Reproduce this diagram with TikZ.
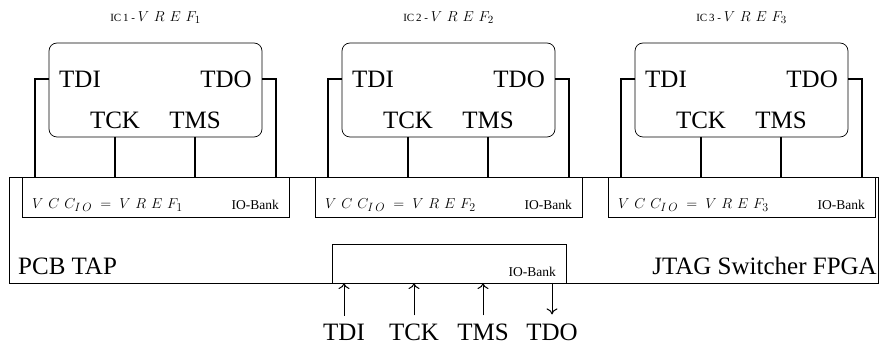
\documentclass[tikz,border=0pt]{standalone}
\usepackage{fontspec}
\setmainfont{Liberation Serif}
\usetikzlibrary{arrows.meta,positioning}
% math in the labels is set wide, with large indices
\DeclareMathSizes{15}{15}{12.5}{9}
\DeclareMathSizes{13.5}{13.5}{11}{8}
\newcommand{\vccio}{V\mkern6mu C\mkern6mu C_{I\mkern3mu O}}
\newcommand{\vrefn}[1]{V\mkern6mu R\mkern6mu E\mkern6mu F_{#1}}

\begin{document}
\begin{tikzpicture}[x=1pt,y=-1pt]
  \tikzstyle{box}=[draw,line width=0.7pt,inner sep=0pt,outer sep=0pt]
  \tikzstyle{icbox}=[box,rounded corners=8pt,minimum width=213pt,minimum height=94pt]
  \tikzstyle{bank}=[box,minimum width=267pt,minimum height=40pt]
  \tikzstyle{pin}=[inner sep=0pt,font=\fontsize{25}{30}\selectfont]
  \tikzstyle{small}=[inner sep=0pt,font=\fontsize{13.5}{16}\selectfont]
  \tikzstyle{tiny}=[inner sep=0pt,font=\fontsize{11}{13}\selectfont]
  \tikzstyle{wire}=[line width=1.5pt]
  \tikzstyle{sig}=[line width=1pt,-{To[length=6pt,width=11pt]}]
  \useasboundingbox (0,0) rectangle (879,352);
  % board with the switcher FPGA
  \node[box,minimum width=869pt,minimum height=106pt] (board) at (443.5,230) {};
  \node[pin,anchor=west] (pcb) at (18,266) {PCB TAP};
  \node[pin,anchor=east] (fpga) at (877,266) {JTAG Switcher FPGA};
  % one IC per IO bank
  \foreach \i/\dx in {1/0,2/293,3/586} {
    \node[icbox] (ic\i) at (155.5+\dx,90) {};
    \node[tiny] (name\i) at (155.5+\dx,18) {IC\,\i\ - {\fontsize{13.5}{15}\selectfont$\vrefn{\i}$}};
    \node[pin,anchor=west] (tdi\i) at (59+\dx,79) {TDI};
    \node[pin,anchor=east] (tdo\i) at (252+\dx,79) {TDO};
    \node[pin] (tck\i) at (115+\dx,120) {TCK};
    \node[pin] (tms\i) at (195+\dx,120) {TMS};
    \node[bank] (io\i) at (155.5+\dx,197) {};
    \node[small,anchor=west] (vcc\i) at (32+\dx,205) {\fontsize{15}{17}\selectfont$\vccio \;=\; \vrefn{\i}$};
    \node[small,anchor=east] (iol\i) at (279+\dx,205) {IO-Bank};
    \coordinate (di\i) at (35+\dx,177);
    \coordinate (do\i) at (276+\dx,177);
    \draw[wire] (ic\i.west |- tdi\i) -| (di\i);
    \draw[wire] (ic\i.east |- tdo\i) -| (do\i);
    \draw[wire] (ic\i.south -| tck\i) -- (io\i.north -| tck\i);
    \draw[wire] (ic\i.south -| tms\i) -- (io\i.north -| tms\i);
  }
  % bank towards the PCB TAP
  \node[box,minimum width=234pt,minimum height=39pt] (jbank) at (449,263.5) {};
  \node[small,anchor=east] (jbl) at (556,272) {IO-Bank};
  \foreach \s/\x in {TDI/344,TCK/414,TMS/483} {
    \node[pin] (b\s) at (\x,332) {\s};
    \draw[sig,shorten <=8pt] (b\s) -- (b\s |- board.south);
  }
  \node[pin] (bTDO) at (552,332) {TDO};
  \draw[sig,shorten >=9pt] (board.south -| bTDO) -- (bTDO);
\end{tikzpicture}
\end{document}
